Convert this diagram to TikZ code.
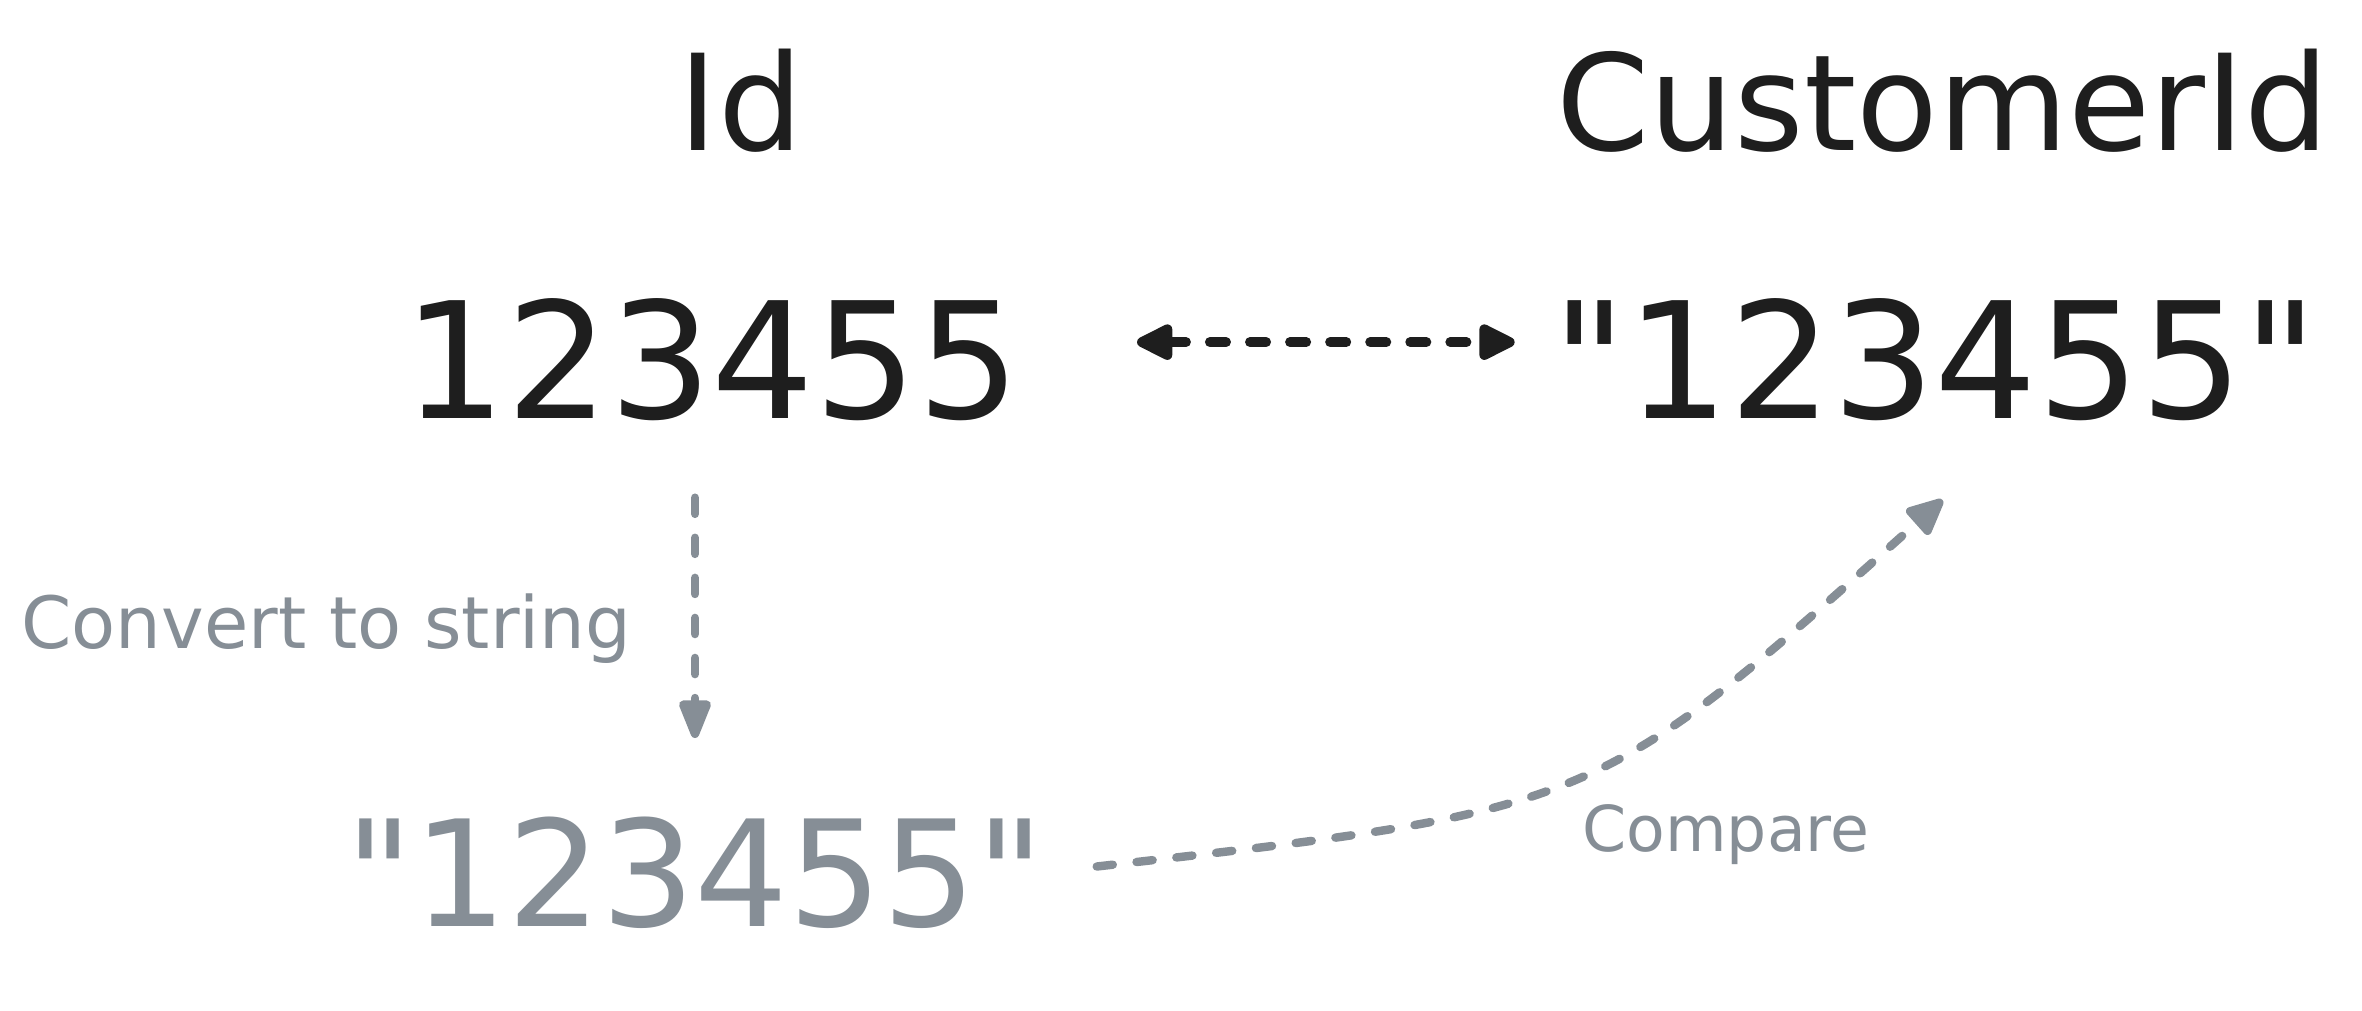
\documentclass[tikz,border=0pt]{standalone}
\usepackage{fontspec}
\setmainfont{DejaVu Sans}
\usetikzlibrary{arrows.meta}
\definecolor{myblack}{HTML}{1E1E1E}
\definecolor{mygray}{HTML}{868E96}

\begin{document}
\begin{tikzpicture}[thick,
    title/.style={text=myblack, inner sep=0pt, anchor=base, font=\fontsize{38}{42}\selectfont},
    bignum/.style={text=myblack, inner sep=0pt, anchor=base, font=\fontsize{46}{50}\selectfont},
    smallnum/.style={text=mygray, inner sep=0pt, anchor=base, font=\fontsize{42}{46}\selectfont},
    note/.style={text=mygray, inner sep=0pt, anchor=base west, font=\fontsize{18}{22}\selectfont},
    blackdash/.style={color=myblack, line width=2.8pt, line cap=round,
      dash pattern=on 4.6pt off 6.8pt},
    graydash/.style={color=mygray, line width=2.4pt, line cap=round,
      dash pattern=on 4.6pt off 6.8pt}]

      \useasboundingbox (0,0) rectangle (23.62,10.10);

      \pgfmathsetmacro{\titleY}{8.59}
      \pgfmathsetmacro{\numY}{5.91}
      \pgfmathsetmacro{\strY}{0.84}

      % titles
      \node [title, name=idtitle] at (7.41,\titleY) {Id};
      \node [title, name=custtitle] at (19.43,\titleY) {CustomerId};

      % values
      \node [bignum, name=num] at (7.12,\numY) {123455};
      \node [bignum, name=strnum] at (19.35,\numY) {\textquotedbl 123455\textquotedbl};

      % converted value
      \node [smallnum, name=strlow] at (6.95,\strY) {\textquotedbl 123455\textquotedbl};

      % notes
      \node [note, name=convnote, font=\fontsize{20.5}{24}\selectfont] at (0.20,3.62) {Convert to string};
      \node [note, name=compnote] at (15.81,1.59) {Compare};

      % bend of the compare arrow
      \coordinate (bend) at (15.95,2.00);

      \draw [blackdash, {Triangle[length=12pt, width=11pt, round]}-{Triangle[length=12pt, width=11pt, round]},
        shorten <=1.15cm, shorten >=0.36cm] ([yshift=0.18cm]num.east) -- ([yshift=0.18cm]strnum.west);

      \draw [graydash, -{Triangle[length=13pt, width=9.5pt, round]},
        shorten <=0.75cm, shorten >=0.77cm] (num.south -| strlow.north) -- (strlow.north);

      \draw [graydash, -{Triangle[length=12pt, width=10.5pt, round]},
        shorten <=0.51cm, shorten >=1.16cm]
        (strlow.east) .. controls (bend) .. ([xshift=0.94cm]strnum.south);

    \end{tikzpicture}
\end{document}
